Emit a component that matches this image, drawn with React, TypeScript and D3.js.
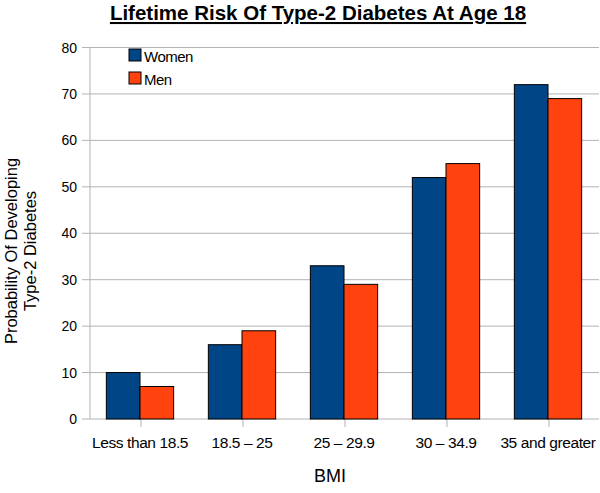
import React from "react";
import * as d3 from "d3";

const categories = ["Less than 18.5", "18.5 – 25", "25 – 29.9", "30 – 34.9", "35 and greater"];
const women = [10, 16, 33, 52, 72];
const men = [7, 19, 29, 55, 69];
const yTicks = [0, 10, 20, 30, 40, 50, 60, 70, 80];
const seriesNames = ["Women", "Men"];
const colors = ["#004586", "#ff420e"];

export default function App() {
  const W = 600, H = 493;
  const left = 90, right = 599, top = 47.5, bottom = 419;
  const x = d3.scaleBand<string>().domain(categories).range([left - 1, right]).paddingInner(0.34).paddingOuter(0.17);
  const inner = d3.scaleBand<string>().domain(seriesNames).range([0, x.bandwidth()]);
  const y = d3.scaleLinear().domain([0, 80]).range([bottom, top]);
  const series = [women, men];
  const font = "'Liberation Sans', Arial, sans-serif";
  const step = (right - left + 1) / categories.length;
  return (
    <svg width={W} height={H} style={{ position: "absolute", left: 0, top: 0, background: "#fff" }} fontFamily={font}>
      <text x={318} y={20} textAnchor="middle" fontSize={20.5} fontWeight="bold" textDecoration="underline">
        Lifetime Risk Of Type-2 Diabetes At Age 18
      </text>
      {yTicks.map((t) => (
        <g key={t}>
          <line x1={left - 8} x2={right} y1={y(t)} y2={y(t)} stroke="#b3b3b3" strokeWidth={1} />
          <text x={77} y={y(t) + 5} textAnchor="end" fontSize={14} fill="#000">{t}</text>
        </g>
      ))}
      <line x1={left} x2={left} y1={top} y2={bottom} stroke="#b3b3b3" />
      {categories.map((c, i) => (
        <g key={c}>
          <line x1={left + step * (i + 0.5)} x2={left + step * (i + 0.5)} y1={bottom} y2={bottom + 8} stroke="#b3b3b3" />
          <text x={left + step * (i + 0.5) - 1} y={448} textAnchor="middle" fontSize={15.5} letterSpacing={-0.4}>{c}</text>
        </g>
      ))}
      {series.map((vals, s) =>
        vals.map((v, i) => (
          <rect
            key={`${s}-${i}`}
            x={(x(categories[i]) as number) + (inner(seriesNames[s]) as number)}
            y={y(v)}
            width={inner.bandwidth()}
            height={bottom - y(v)}
            fill={colors[s]}
            stroke="#000"
            strokeWidth={1}
          />
        ))
      )}
      {seriesNames.map((n, s) => (
        <g key={n}>
          <rect x={129} y={49 + s * 23} width={12} height={12} fill={colors[s]} stroke="#000" />
          <text x={144} y={61.5 + s * 23} fontSize={15} letterSpacing={-0.5}>{n}</text>
        </g>
      ))}
      <text x={330} y={482} textAnchor="middle" fontSize={18}>BMI</text>
      <text transform="translate(16.5,251) rotate(-90)" textAnchor="middle" fontSize={16.5}>Probability Of Developing</text>
      <text transform="translate(36,251) rotate(-90)" textAnchor="middle" fontSize={16.5}>Type-2 Diabetes</text>
    </svg>
  );
}
